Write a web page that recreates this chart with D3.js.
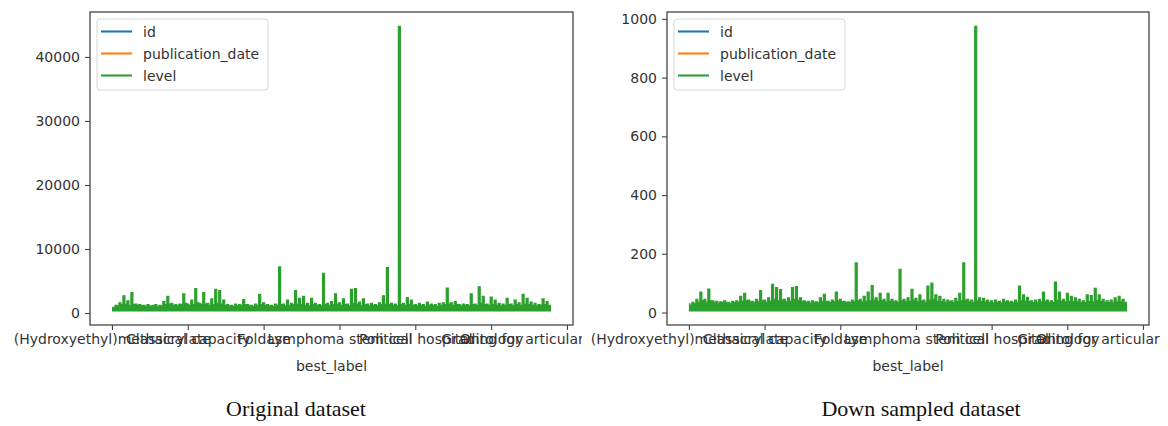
<!DOCTYPE html>
<html>
<head>
<meta charset="utf-8">
<script src="https://cdn.jsdelivr.net/npm/d3@7"></script>
<style>
body { margin: 0; background: #fff; }
.tick text, .lbl { font-family: "DejaVu Sans", sans-serif; }
</style>
</head>
<body>
<div id="holder"></div>
<script>
// legend entries (only "level" has numeric values to plot)
var seriesNames = ["id", "publication_date", "level"];
var seriesColors = ["#1f77b4", "#ff7f0e", "#2ca02c"];

// best_label values shown at the x ticks (same rows in both panels)
var tickLabels = ["(Hydroxyethyl)methacrylate", "Classical capacity", "Foldase",
    "Lymphoma stem cell", "Political hospital", "Ontology",
    "Grading for articular cartilage injury"];

// original dataset
var origRows = 11581;
var origXTicks = [0, 2000, 4000, 6000, 8000, 10000, 12000];
var origYTicks = [0, 10000, 20000, 30000, 40000];
var origFloor = 350;
var origLevel = [
  800, 900, 1200, 1100, 1600, 1300, 2700, 1400, 1900, 1200, 3200, 1300, 1400, 1200, 1300, 1100,
  1200, 1000, 1300, 1100, 1100, 1200, 1300, 1000, 1200, 1100, 1800, 1300, 2600, 1400, 1500, 1200,
  1300, 1100, 1400, 1300, 3000, 1500, 1400, 1200, 2000, 1300, 3800, 1600, 1500, 1300, 3200, 1400,
  1500, 1200, 2200, 1300, 3700, 1500, 3500, 1400, 2000, 1200, 1300, 1100, 1200, 1000, 1400, 1100,
  1300, 1200, 2100, 1300, 1300, 1100, 1200, 1000, 1400, 1200, 2900, 1300, 1600, 1200, 1300, 1100,
  1200, 1000, 1400, 1200, 7200, 1300, 1400, 1100, 2000, 1200, 1500, 1300, 3500, 1400, 2300, 1300,
  2600, 1200, 1500, 1100, 2300, 1300, 1500, 1200, 1300, 1100, 6200, 1300, 1500, 1200, 1800, 1300,
  3000, 1400, 1600, 1200, 2200, 1300, 1400, 1100, 3700, 1500, 3800, 1400, 1700, 1200, 2200, 1300,
  1400, 1100, 1500, 1200, 1300, 1100, 1600, 1300, 2700, 1400, 7100, 1300, 1500, 1200, 1400, 1100,
  44800, 1300, 1500, 1200, 2400, 1300, 2000, 1200, 1300, 1100, 1500, 1200, 1300, 1000, 1700, 1200,
  1400, 1100, 1300, 1000, 1500, 1200, 1600, 1300, 3900, 1400, 1600, 1200, 1800, 1300, 1300, 1100,
  1400, 1200, 1300, 1100, 3000, 1300, 1400, 1200, 4100, 1500, 2600, 1300, 1400, 1200, 2500, 1300,
  2000, 1200, 1500, 1100, 1400, 1200, 2300, 1300, 1400, 1100, 2000, 1300, 1600, 1200, 2900, 1400,
  2300, 1300, 1700, 1200, 1500, 1100, 1300, 1200, 2200, 1300, 1800, 1200, 1200
];

// down sampled dataset
var downRows = 1159;
var downXTicks = [0, 200, 400, 600, 800, 1000, 1200];
var downYTicks = [0, 200, 400, 600, 800, 1000];
var downFloor = 6;
var downLevel = [
  30, 25, 35, 30, 45, 35, 70, 40, 45, 35, 80, 40, 40, 35, 38, 32, 36, 34, 40, 33, 35, 30, 38, 34,
  40, 35, 55, 38, 65, 40, 42, 36, 38, 33, 45, 36, 75, 40, 42, 35, 50, 38, 96, 45, 85, 40, 78, 42,
  45, 36, 50, 38, 85, 45, 88, 42, 50, 38, 40, 34, 38, 32, 40, 35, 36, 33, 50, 37, 62, 38, 38, 34,
  42, 36, 70, 40, 45, 36, 38, 33, 36, 34, 42, 36, 169, 40, 45, 36, 55, 38, 70, 40, 92, 42, 50, 38,
  65, 40, 45, 36, 65, 38, 45, 36, 40, 34, 147, 40, 45, 36, 50, 38, 79, 42, 48, 36, 60, 38, 42, 35,
  90, 42, 100, 45, 60, 38, 55, 37, 45, 35, 42, 36, 40, 34, 48, 37, 65, 40, 169, 42, 45, 36, 42, 35,
  975, 40, 50, 37, 48, 36, 42, 34, 40, 33, 42, 35, 38, 32, 45, 36, 40, 34, 38, 33, 42, 35, 90, 40,
  60, 38, 52, 37, 40, 34, 42, 35, 45, 36, 70, 38, 42, 35, 40, 34, 104, 42, 70, 38, 45, 36, 65, 38,
  55, 37, 50, 36, 45, 35, 40, 34, 60, 37, 58, 36, 82, 40, 60, 37, 45, 35, 40, 34, 42, 35, 50, 36,
  55, 37, 45, 35, 35
];

var W = 1168, H = 426;
var axTop = 12, axBottom = 325;
var fontSize = 14;
var textColor = "#333";

var svg = d3.select("#holder")
    .append("svg")
        .attr("width", W)
        .attr("height", H)
        .style("background-color", "white");

var clips = svg.append("defs");

function drawPanel(p) {
    clips.append("clipPath").attr("id", "clip" + p.id)
        .append("rect")
            .attr("x", p.clipLeft).attr("y", 0)
            .attr("width", p.clipRight - p.clipLeft).attr("height", H);

    var g = svg.append("g").attr("clip-path", "url(#clip" + p.id + ")");

    // matplotlib style 5% margins
    var xPad = (p.rows - 1) * 0.05;
    var xScale = d3.scaleLinear()
        .domain([-xPad, p.rows - 1 + xPad])
        .range([p.left, p.right]);

    var yMax = d3.max(p.level);
    var yPad = (yMax - p.floor) * 0.05;
    var yScale = d3.scaleLinear()
        .domain([p.floor - yPad, yMax + yPad])
        .range([axBottom, axTop]);

    var step = (p.rows - 1) / (p.level.length - 1);

    var area = d3.area()
        .curve(d3.curveStep)
        .x(function(d, i) { return xScale(i * step); })
        .y0(yScale(p.floor))
        .y1(function(d) { return yScale(d); });

    var line = d3.line()
        .curve(d3.curveStep)
        .x(function(d, i) { return xScale(i * step); })
        .y(function(d) { return yScale(d); });

    g.append("path")
        .datum(p.level)
        .attr("d", area)
        .attr("fill", seriesColors[2]);

    g.append("path")
        .datum(p.level)
        .attr("d", line)
        .attr("fill", "none")
        .attr("stroke", seriesColors[2])
        .attr("stroke-width", 1.2);

    // bottom edge of the band (line width below the minimum)
    g.append("path")
        .datum([p.floor, p.floor])
        .attr("d", d3.line()
            .x(function(d, i) { return xScale(i * (p.rows - 1)); })
            .y(function(d) { return yScale(d); }))
        .attr("stroke", seriesColors[2])
        .attr("stroke-width", 1.6);

    // axes
    var xAxis = g.append("g")
        .attr("transform", "translate(0," + axBottom + ")")
        .call(d3.axisBottom(xScale)
            .tickValues(p.xTicks)
            .tickSize(5)
            .tickPadding(4)
            .tickFormat(function(d, i) { return tickLabels[i]; }));

    var yAxis = g.append("g")
        .attr("transform", "translate(" + p.left + ",0)")
        .call(d3.axisLeft(yScale)
            .tickValues(p.yTicks)
            .tickSize(5)
            .tickPadding(5)
            .tickFormat(d3.format("d")));

    [xAxis, yAxis].forEach(function(a) {
        a.select(".domain").remove();
        a.selectAll(".tick line").attr("stroke", "#444").attr("stroke-width", 1.1);
        a.selectAll(".tick text")
            .attr("fill", textColor)
            .style("font-size", fontSize + "px");
    });

    // spines
    g.append("rect")
        .attr("x", p.left)
        .attr("y", axTop)
        .attr("width", p.right - p.left)
        .attr("height", axBottom - axTop)
        .attr("fill", "none")
        .attr("stroke", "#444")
        .attr("stroke-width", 1.3);

    g.append("text")
        .attr("class", "lbl")
        .attr("x", (p.left + p.right) / 2)
        .attr("y", 371)
        .attr("text-anchor", "middle")
        .attr("fill", textColor)
        .style("font-size", fontSize + "px")
        .text("best_label");

    // legend
    var lx = p.left + 7, ly = 19;
    var legend = g.append("g");
    legend.append("rect")
        .attr("x", lx).attr("y", ly)
        .attr("width", 171).attr("height", 71)
        .attr("rx", 3)
        .attr("fill", "white")
        .attr("fill-opacity", 0.8)
        .attr("stroke", "#d6d6d6");

    seriesNames.forEach(function(name, i) {
        var yy = ly + 12.5 + i * 22;
        legend.append("line")
            .attr("x1", lx + 4).attr("x2", lx + 35)
            .attr("y1", yy).attr("y2", yy)
            .attr("stroke", seriesColors[i])
            .attr("stroke-width", 2.1);
        legend.append("text")
            .attr("class", "lbl")
            .attr("x", lx + 46)
            .attr("y", yy + 5)
            .attr("fill", textColor)
            .style("font-size", fontSize + "px")
            .text(name);
    });

    svg.append("text")
        .attr("x", p.captionX)
        .attr("y", 416)
        .attr("text-anchor", "middle")
        .attr("fill", "#111")
        .style("font-family", "'Liberation Serif', 'Times New Roman', serif")
        .style("font-size", "22px")
        .text(p.caption);
}

drawPanel({
    id: 1, left: 90, right: 573, clipLeft: 0, clipRight: 582,
    rows: origRows, level: origLevel, floor: origFloor,
    xTicks: origXTicks, yTicks: origYTicks,
    caption: "Original dataset", captionX: 296
});

drawPanel({
    id: 2, left: 667, right: 1149, clipLeft: 583, clipRight: 1160,
    rows: downRows, level: downLevel, floor: downFloor,
    xTicks: downXTicks, yTicks: downYTicks,
    caption: "Down sampled dataset", captionX: 921
});
</script>
</body>
</html>
